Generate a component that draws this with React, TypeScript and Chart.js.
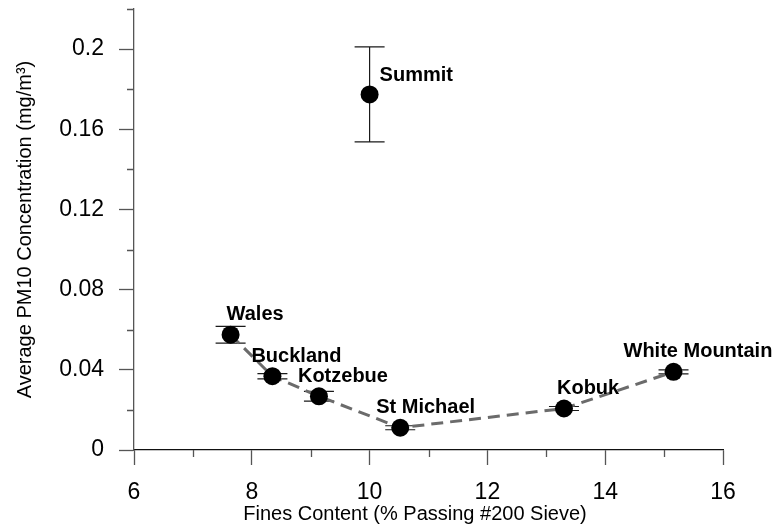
import React, { useEffect, useRef } from "react";
import { Chart, registerables } from "chart.js";

Chart.register(...registerables);

const sites = ["Summit", "Wales", "Buckland", "Kotzebue", "St Michael", "Kobuk", "White Mountain"];
const finesContent = [10.0, 7.64, 8.35, 9.14, 10.52, 13.3, 15.16];
const pm10Avg = [0.1774, 0.0575, 0.0368, 0.0268, 0.0111, 0.0207, 0.039];
const pm10Err = [0.0237, 0.0042, 0.0013, 0.0024, 0.001, 0.001, 0.001];
const trendSites = ["Wales", "Buckland", "Kotzebue", "St Michael", "Kobuk", "White Mountain"];
const xTitle = "Fines Content (% Passing #200 Sieve)";
const yTitle = "Average PM10 Concentration (mg/m³)";

// label placement offsets (px) relative to each marker
const labelOffsets = [
  [10, -19],
  [-4, -20],
  [-21, -20],
  [-21, -20],
  [-24, -20],
  [-7, -20],
  [-50, -20],
];

const FONT = "Arial, 'Liberation Sans', sans-serif";

const extrasPlugin = {
  id: "extras",
  beforeDatasetsDraw(chart: any) {
    const ctx = chart.ctx;
    const xs = chart.scales.x;
    const ys = chart.scales.y;
    ctx.save();
    ctx.strokeStyle = "#1a1a1a";
    ctx.lineWidth = 1.2;
    for (let i = 0; i < sites.length; i++) {
      const px = xs.getPixelForValue(finesContent[i]);
      const top = ys.getPixelForValue(pm10Avg[i] + pm10Err[i]);
      const bot = ys.getPixelForValue(pm10Avg[i] - pm10Err[i]);
      ctx.beginPath();
      ctx.moveTo(px, top);
      ctx.lineTo(px, bot);
      ctx.moveTo(px - 15, top);
      ctx.lineTo(px + 15, top);
      ctx.moveTo(px - 15, bot);
      ctx.lineTo(px + 15, bot);
      ctx.stroke();
    }
    ctx.restore();
  },
  afterDraw(chart: any) {
    const ctx = chart.ctx;
    const xs = chart.scales.x;
    const ys = chart.scales.y;
    const area = chart.chartArea;
    ctx.save();
    // minor ticks
    ctx.lineWidth = 1.3;
    ctx.strokeStyle = "#555";
    ctx.beginPath();
    for (let v = 7; v < 16; v += 2) {
      const px = Math.round(xs.getPixelForValue(v)) + 0.5;
      ctx.moveTo(px, area.bottom);
      ctx.lineTo(px, area.bottom + 7);
    }
    for (let k = 1; k <= 11; k += 2) {
      const py = Math.round(ys.getPixelForValue(k * 0.02)) + 0.5;
      ctx.moveTo(area.left, py);
      ctx.lineTo(area.left - 7, py);
    }
    ctx.stroke();

    // point labels
    ctx.fillStyle = "#000";
    ctx.font = "bold 20px " + FONT;
    ctx.textAlign = "left";
    ctx.textBaseline = "middle";
    for (let i = 0; i < sites.length; i++) {
      const px = xs.getPixelForValue(finesContent[i]);
      const py = ys.getPixelForValue(pm10Avg[i]);
      ctx.fillText(sites[i], px + labelOffsets[i][0], py + labelOffsets[i][1]);
    }

    // axis titles
    ctx.font = "20px " + FONT;
    ctx.textAlign = "center";
    ctx.textBaseline = "middle";
    ctx.fillText(xTitle, 415, 514);
    ctx.translate(25, (area.top + area.bottom) / 2);
    ctx.rotate(-Math.PI / 2);
    ctx.fillText(yTitle, 0, 0);
    ctx.restore();
  },
};

export default function App() {
  const ref = useRef<HTMLCanvasElement | null>(null);
  useEffect(() => {
    if (!ref.current) return;
    const idx = trendSites.map((s) => sites.indexOf(s));
    const chart = new Chart(ref.current, {
      type: "scatter",
      data: {
        datasets: [
          {
            label: "sites",
            data: sites.map((_, i) => ({ x: finesContent[i], y: pm10Avg[i] })),
            pointRadius: 9,
            pointBackgroundColor: "#000",
            pointBorderWidth: 0,
            showLine: false,
            order: 0,
          },
          {
            label: "trend",
            data: idx.map((i) => ({ x: finesContent[i], y: pm10Avg[i] })),
            showLine: true,
            pointRadius: 0,
            borderColor: "#6b6b6b",
            borderWidth: 3,
            borderDash: [12, 7],
            tension: 0,
            order: 1,
          },
        ],
      },
      options: {
        animation: false,
        responsive: false,
        maintainAspectRatio: false,
        layout: { padding: { top: 9, right: 53, left: 0, bottom: 0 } },
        plugins: { legend: { display: false }, tooltip: { enabled: false } },
        scales: {
          x: {
            type: "linear",
            min: 6,
            max: 16,
            ticks: {
              stepSize: 2,
              color: "#000",
              font: { family: FONT, size: 23 },
              padding: 14,
              maxRotation: 0,
            },
            grid: { drawOnChartArea: false, tickLength: 15, tickColor: "#555", tickWidth: 1.3 },
            border: { color: "#111", width: 1.3 },
            afterFit: (s: any) => {
              s.height = 77;
              s.paddingLeft = 0;
              s.paddingRight = 0;
            },
          },
          y: {
            type: "linear",
            min: 0,
            max: 0.22,
            ticks: {
              stepSize: 0.04,
              includeBounds: false,
              color: "#000",
              font: { family: FONT, size: 23 },
              padding: 15,
              callback: (v: any) => String(Number(Number(v).toFixed(2))),
            },
            grid: { drawOnChartArea: false, tickLength: 15, tickColor: "#555", tickWidth: 1.3 },
            border: { color: "#555", width: 1.3 },
            afterFit: (s: any) => {
              s.width = 134;
              s.paddingTop = 0;
              s.paddingBottom = 0;
            },
          },
        },
      },
      plugins: [extrasPlugin],
    });
    return () => chart.destroy();
  }, []);
  return (
    <div style={{ position: "absolute", left: 0, top: 0, width: 776, height: 527, background: "#fff" }}>
      <canvas ref={ref} width={776} height={527} style={{ display: "block" }} />
    </div>
  );
}
